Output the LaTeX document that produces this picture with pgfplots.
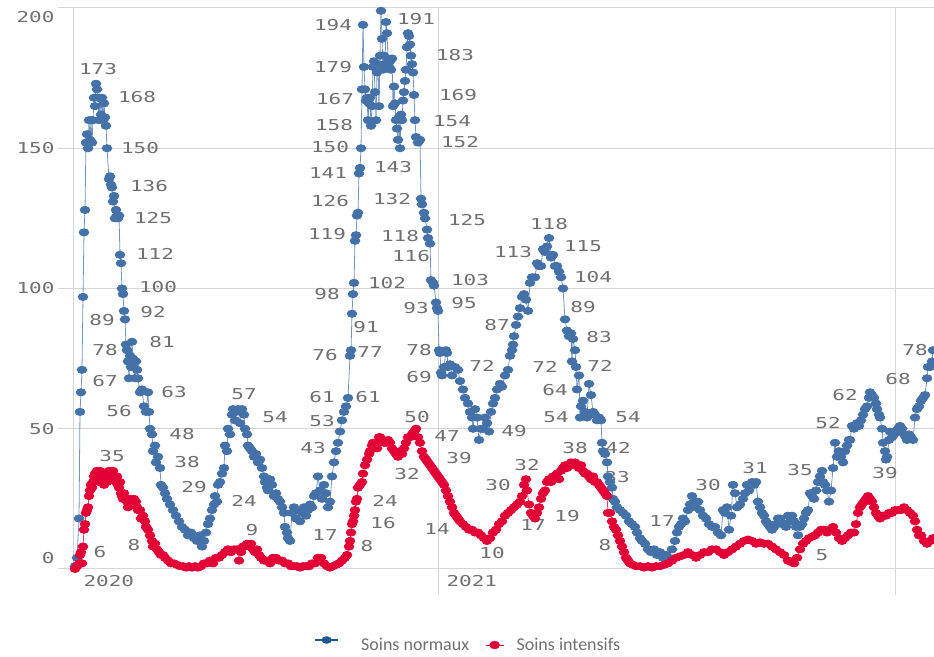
\documentclass[border=0pt]{standalone}
\usepackage{pgfplots}
\pgfplotsset{compat=1.18}
\usepackage{pgfplotstable}
\usepackage{fontspec}
\setmainfont{Carlito}
\newfontfamily\numfont[FakeStretch=1.4]{DejaVu Sans Mono}
\definecolor{bleu}{HTML}{4472A8}
\definecolor{rouge}{HTML}{E20036}
\definecolor{bleuleg}{HTML}{1D5A94}
\definecolor{gris}{HTML}{707070}
\definecolor{grille}{HTML}{D6D6D6}

% Soins normaux (x = position in days scale, y = patients)
\pgfplotstableread{
x y
75 1
77 4
79 18
80 56
81 63
82 71
83 97
84 120
85 128
86 152
87 155
88 150
89 160
90 153
91 160
92 152
93 160
94 168
95 165
96 173
97 171
98 168
99 160
100 168
101 162
102 168
103 160
104 166
105 161
106 158
107 150
109 139
110 140
111 137
112 136
113 131
114 133
115 125
116 128
117 126
118 125
119 126
120 112
121 109
122 100
123 98
124 92
125 89
126 80
127 78
128 74
129 68
130 76
131 72
132 81
133 75
134 72
135 68
136 74
137 71
138 68
140 63
142 64
144 58
146 56
148 63
149 56
150 50
152 48
153 42
155 44
156 38
158 40
160 36
161 30
163 29
165 27
167 25
170 23
173 21
176 19
179 17
182 15
185 14
188 12
191 13
194 11
197 10
200 12
202 8
204 10
206 13
208 16
210 18
212 21
214 23
215 26
217 24
218 30
220 31
222 34
224 36
225 44
227 42
228 50
230 48
232 55
233 57
235 53
236 56
238 57
240 52
242 57
244 55
245 50
247 48
248 44
250 43
252 42
254 40
256 41
258 38
260 39
262 36
264 33
265 31
267 29
268 28
270 32
272 30
274 26
276 27
278 25
280 24
282 22
284 20
285 15
287 13
288 11
290 10
292 20
294 22
296 18
298 21
300 17
302 20
304 22
306 19
308 21
310 23
312 22
314 26
316 27
318 33
320 28
322 25
324 30
326 27
328 22
330 24
332 33
334 38
336 42
338 45
340 49
342 53
344 56
346 58
348 61
350 76
351 78
352 91
353 98
354 102
355 117
356 119
357 126
358 127
359 141
360 143
361 150
362 171
363 194
364 179
365 171
366 167
367 168
368 160
369 166
370 168
371 158
372 165
373 179
374 181
375 170
376 160
377 177
378 180
379 165
380 183
381 199
382 189
383 178
384 183
385 180
386 195
387 191
388 182
389 179
390 181
391 178
392 182
393 165
394 172
395 166
396 160
397 157
398 153
399 161
400 150
401 162
402 160
403 167
404 170
405 174
406 178
407 186
408 191
409 190
410 187
411 183
412 180
413 177
414 169
415 160
416 154
418 152
420 153
421 132
422 130
424 127
425 125
427 121
428 118
430 116
431 103
433 102
434 101
436 95
437 93
438 92
439 78
440 77
441 70
442 69
444 72
446 78
447 77
448 72
450 73
452 69
455 72
458 71
460 67
463 64
465 61
468 59
470 56
472 54
473 50
475 57
477 54
479 46
481 50
483 50
485 54
487 52
489 49
491 56
493 59
495 61
497 64
500 66
502 65
505 69
508 71
510 76
512 78
513 80
514 83
516 87
518 90
520 93
522 97
524 98
526 96
528 92
530 102
532 104
535 104
537 109
539 108
541 108
543 114
545 113
547 115
549 118
551 111
553 112
555 108
557 108
559 106
561 104
563 100
565 89
567 85
569 83
571 84
572 74
573 82
575 78
576 72
577 64
579 69
580 54
581 58
583 60
585 56
587 54
589 66
591 62
593 56
595 55
597 53
599 54
601 53
602 45
603 42
605 41
607 38
608 33
610 31
612 29
613 25
615 24
617 22
620 21
623 20
626 19
629 17
632 16
635 15
637 13
640 11
642 10
645 9
648 7
651 6
654 7
657 5
660 6
663 4
666 5
669 4
672 7
675 10
677 13
679 15
681 16
683 18
685 17
688 21
690 23
692 26
694 24
696 22
698 24
700 21
703 19
706 18
709 16
712 15
715 15
718 13
721 12
723 21
725 20
727 22
729 14
731 19
733 30
735 27
737 22
740 23
743 25
745 27
747 30
749 28
752 31
754 30
756 31
758 24
760 22
762 20
764 19
766 17
768 16
770 15
772 14
774 15
776 16
778 18
780 18
782 16
784 16
786 15
788 19
790 17
792 19
794 17
796 15
798 12
800 15
802 16
804 18
806 20
808 21
810 27
812 26
814 25
816 28
818 31
820 33
822 35
823 31
825 30
827 28
829 24
831 28
833 36
835 45
837 40
839 42
841 40
843 38
845 42
847 44
849 46
850 46
852 51
854 50
857 52
859 51
861 53
863 55
865 57
867 58
869 61
870 63
872 62
874 61
876 59
877 57
879 55
880 54
882 50
883 45
885 42
886 39
887 40
889 46
890 49
892 47
894 48
896 49
898 50
900 51
902 50
904 48
906 47
907 46
909 48
911 47
913 46
915 54
917 57
919 58
921 60
923 61
925 62
927 68
928 72
930 72
932 74
933 78
}\normaux

% Soins intensifs
\pgfplotstableread{
x y
75 0
77 1
79 2
80 5
81 6
82 2
83 8
84 14
85 16
86 20
87 21
88 22
89 26
90 28
91 30
92 29
93 31
94 33
95 34
96 32
97 35
98 34
99 31
100 35
101 33
102 32
103 34
104 30
106 33
107 31
108 33
109 35
110 33
111 35
112 34
113 35
114 32
115 33
116 31
117 33
118 30
119 29
120 31
121 27
122 26
123 25
124 27
125 25
127 24
128 22
130 25
132 24
134 25
136 24
137 22
138 21
140 21
141 18
143 19
145 17
146 15
148 14
150 12
152 10
153 8
155 9
157 7
159 6
161 5
163 5
165 4
168 3
171 2
174 2
177 1.5
180 1
183 1
186 0.5
189 1
192 0.5
195 1
198 0.5
201 1
204 2
207 2
210 3
213 2
216 4
219 4
222 5
225 6
228 7
231 6
234 7
237 7
239 3
241 6
243 8
245 8
247 9
249 8
251 9
253 7
255 6
257 7
259 5
261 4
264 3
267 3
270 2
273 4
276 4
279 3
282 3
285 2
288 2
291 1
294 1
297 1
300 0.5
303 1
306 1
309 1
312 2
315 2
318 4
321 4
324 2
327 1
330 0.5
333 1
336 1.5
339 2
342 3
345 4
347 5
349 8
350 10
351 13
352 16
353 17
354 19
355 21
356 24
357 25
358 29
360 30
362 31
363 34
365 37
367 39
369 41
370 42
372 44
373 45
375 44
377 43
379 47
380 47
382 46
384 45
386 45
388 46
390 45
392 43
394 42
396 41
398 40
400 42
402 41
404 43
406 45
408 47
410 47
412 48
414 49
416 50
418 47
420 45
422 42
424 40
426 39
428 38
430 37
432 36
434 35
436 34
438 33
440 32
442 31
444 30
446 28
448 26
450 24
452 22
454 20
456 19
458 18
460 17
463 16
466 15
469 14
472 14
475 13
478 13
481 12
484 11
487 10
490 11
493 13
496 14
499 16
502 17
505 19
508 20
511 21
514 22
517 23
520 24
522 26
524 30
526 32
527 28
529 23
531 20
533 19
535 18
537 20
539 22
541 25
543 27
545 28
547 31
549 32
551 31
553 33
555 33
557 34
559 32
561 35
563 36
565 37
567 36
569 37
571 38
573 37
575 38
577 37
579 36
581 37
583 35
585 34
587 34
589 33
591 32
593 33
595 31
597 31
599 30
601 29
603 28
605 27
607 26
608 20
610 20
612 17
614 15
616 14
618 12
620 10
622 8
624 6
626 4
628 3
630 2
633 1.5
636 1
640 1
644 0.5
648 1
652 0.5
656 1
660 1
664 1.5
668 2
672 3
676 4
680 4.5
684 5
688 6
692 5
696 4
700 5
704 6
708 6
712 7
716 7
720 6
724 5
728 6
732 7
736 8
740 9
744 10
748 10.5
752 10
756 9
760 9.5
764 9
768 9
772 8
776 7
780 6
784 5
788 3
791 2.5
794 2
797 4
800 7
803 9
806 10
809 11
812 11.5
815 12
818 13
821 14
824 14
827 13
830 14
833 15
836 13
839 11
842 10
845 11
848 12
851 13
854 13
856 16
858 20
860 22
862 23
864 24
866 25
868 26
870 25
872 24
874 22
876 20
878 19
880 18
883 19
886 19
889 20
892 20
895 21
898 21
901 21
904 22
907 21
910 20
913 19
915 17
917 14
919 12
921 12
924 10
927 9
930 10
933 11
}\intensifs

\newcommand{\lb}[3]{\node[lbl] at (axis cs:#1,#2) {#3};}

\begin{document}
\begin{tikzpicture}[x=1bp,y=1bp,
  lbl/.style={font=\numfont\fontsize{15bp}{15bp}\selectfont, text=gris, inner sep=0pt, anchor=center}]
\path[use as bounding box] (0,0) rectangle (934,657);
\begin{axis}[
  at={(73bp,88bp)}, anchor=south west,
  width=861bp, height=561bp, scale only axis,
  xmin=73, xmax=934, ymin=0, ymax=200,
  clip=false,
  axis x line*=bottom, axis y line*=left,
  axis line style={-, draw=grille, line width=1bp},
  ytick={0,50,100,150,200},
  yticklabels={{\raisebox{11bp}[\height][\depth]{0}},50,100,150,{\raisebox{-9bp}[\height][\depth]{200}}},
  ymajorgrids, grid style={grille, line width=1bp},
  tick align=outside, major tick length=15bp,
  ytick style={grille, line width=1bp},
  xtick={75,438,895}, xticklabels={2020,2021,},
  xtick style={draw=none},
  xticklabel style={anchor=west, xshift=5bp, yshift=3bp},
  ticklabel style={font=\numfont\fontsize{15bp}{15bp}\selectfont, text=gris},
  legend style={at={(0.4588,-0.1355)}, anchor=center, draw=none, fill=none,
    font=\fontsize{18bp}{18bp}\selectfont, text=gris,
    /tikz/every even column/.append style={column sep=14bp}},
  legend columns=2, legend cell align=left,
]
\draw[grille, line width=1bp] (axis cs:438,200) -- (axis cs:438,0) -- ++(0bp,-26bp);
\draw[grille, line width=1bp] (axis cs:895,200) -- (axis cs:895,0) -- ++(0bp,-26bp);

\addlegendimage{legend image code/.code={
  \path[draw=none] (0bp,0bp) -- (44bp,0bp);
  \draw[bleuleg, line width=2.5bp] (0bp,5bp) -- (23bp,5bp);
  \fill[bleuleg] (11.5bp,5bp) ellipse (5bp and 3.5bp);}}
\addlegendentry{Soins normaux}
\addlegendimage{legend image code/.code={
  \path[draw=none] (0bp,0bp) -- (29bp,0bp);
  \draw[rouge, line width=1bp] (0bp,0bp) -- (18bp,0bp);
  \fill[rouge] (9bp,0bp) ellipse (5bp and 4bp);}}
\addlegendentry{Soins intensifs}

\addplot[bleu!75, line width=0.8bp, mark=*, mark size=3.6bp,
  mark options={draw=bleu, fill=bleu, xscale=1.35}, forget plot] table {\normaux};
\addplot[rouge!75, line width=0.8bp, mark=*, mark size=3.6bp,
  mark options={draw=rouge, fill=rouge, xscale=1.35}, forget plot] table {\intensifs};

% etiquettes Soins normaux
\lb{98}{178.3}{173}
\lb{137}{168.3}{168}
\lb{140}{150.1}{150}
\lb{149}{136.5}{136}
\lb{153}{125.2}{125}
\lb{155}{112.3}{112}
\lb{158}{100.5}{100}
\lb{153}{91.6}{92}
\lb{162}{80.9}{81}
\lb{102}{88.8}{89}
\lb{105}{78.1}{78}
\lb{105}{67.0}{67}
\lb{119}{56.3}{56}
\lb{174}{63.1}{63}
\lb{182}{48.1}{48}
\lb{187}{38.1}{38}
\lb{194}{29.2}{29}
\lb{244}{24.2}{24}
\lb{244}{62.4}{57}
\lb{275}{54.2}{54}
\lb{313}{43.1}{43}
\lb{325}{12.1}{17}
\lb{322}{61.3}{61}
\lb{322}{52.8}{53}
\lb{325}{76.3}{76}
\lb{327}{98.0}{98}
\lb{327}{119.3}{119}
\lb{330}{131.2}{126}
\lb{328}{141.2}{141}
\lb{330}{150.4}{150}
\lb{334}{158.2}{158}
\lb{335}{167.6}{167}
\lb{333}{179.0}{179}
\lb{333}{193.9}{194}
\lb{416}{196.1}{191}
\lb{455}{183.2}{183}
\lb{458}{169.0}{169}
\lb{452}{159.7}{154}
\lb{460}{152.2}{152}
\lb{393}{143.3}{143}
\lb{392}{131.9}{132}
\lb{400}{118.7}{118}
\lb{411}{111.6}{116}
\lb{387}{102.0}{102}
\lb{366}{86.2}{91}
\lb{370}{77.3}{77}
\lb{368}{61.3}{61}
\lb{467}{124.4}{125}
\lb{470}{103.0}{103}
\lb{464}{94.8}{95}
\lb{416}{93.0}{93}
\lb{419}{78.1}{78}
\lb{419}{68.4}{69}
\lb{482}{72.4}{72}
\lb{497}{87.0}{87}
\lb{513}{113.0}{113}
\lb{549}{123.0}{118}
\lb{583}{115.2}{115}
\lb{593}{104.1}{104}
\lb{583}{93.4}{89}
\lb{599}{82.7}{83}
\lb{600}{72.4}{72}
\lb{545}{72.0}{72}
\lb{555}{63.8}{64}
\lb{556}{54.2}{54}
\lb{628}{54.2}{54}
\lb{514}{49.2}{49}
\lb{447}{47.4}{47}
\lb{618}{43.1}{42}
\lb{617}{32.8}{33}
\lb{662}{17.1}{17}
\lb{708}{29.9}{30}
\lb{755}{36.0}{31}
\lb{800}{35.3}{35}
\lb{828}{52.0}{52}
\lb{845}{62.0}{62}
\lb{885}{34.2}{39}
\lb{898}{67.7}{68}
\lb{915}{78.1}{78}
% etiquettes Soins intensifs
\lb{100}{6.1}{6}
\lb{112}{40.3}{35}
\lb{134}{8.6}{8}
\lb{252}{13.9}{9}
\lb{367}{8.2}{8}
\lb{383}{16.4}{16}
\lb{385}{24.2}{24}
\lb{407}{34.0}{32}
\lb{417}{54.2}{50}
\lb{459}{39.5}{39}
\lb{437}{14.3}{14}
\lb{492}{5.7}{10}
\lb{498}{29.9}{30}
\lb{527}{37.1}{32}
\lb{533}{15.7}{17}
\lb{567}{18.9}{19}
\lb{575}{43.1}{38}
\lb{605}{8.6}{8}
\lb{822}{5.0}{5}
\end{axis}
\end{tikzpicture}
\end{document}
